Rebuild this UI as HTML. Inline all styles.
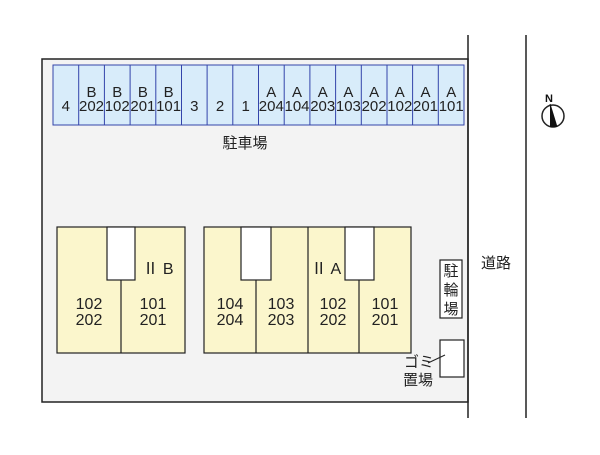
<!DOCTYPE html><html><head><meta charset="utf-8"><style>body{margin:0;background:#fff}</style></head><body>
<svg width="600" height="450" viewBox="0 0 600 450" xmlns="http://www.w3.org/2000/svg" font-family="Liberation Sans, Noto Sans CJK JP, sans-serif">
<rect width="600" height="450" fill="#fff"/>
<rect x="42" y="59" width="426" height="343" fill="#f3f3f3" stroke="#222" stroke-width="1.5"/>
<line x1="468" y1="35" x2="468" y2="418" stroke="#222" stroke-width="1.5"/>
<line x1="526" y1="35" x2="526" y2="418" stroke="#222" stroke-width="1.5"/>
<rect x="53" y="65" width="411" height="60" stroke="#3344aa" stroke-width="1" fill="#d8ecfa"/>
<g stroke="#3344aa" stroke-width="1">
<line x1="78.7" y1="65" x2="78.7" y2="125"/><line x1="104.4" y1="65" x2="104.4" y2="125"/><line x1="130.1" y1="65" x2="130.1" y2="125"/><line x1="155.8" y1="65" x2="155.8" y2="125"/><line x1="181.5" y1="65" x2="181.5" y2="125"/><line x1="207.1" y1="65" x2="207.1" y2="125"/><line x1="232.8" y1="65" x2="232.8" y2="125"/><line x1="258.5" y1="65" x2="258.5" y2="125"/><line x1="284.2" y1="65" x2="284.2" y2="125"/><line x1="309.9" y1="65" x2="309.9" y2="125"/><line x1="335.6" y1="65" x2="335.6" y2="125"/><line x1="361.3" y1="65" x2="361.3" y2="125"/><line x1="387" y1="65" x2="387" y2="125"/><line x1="412.6" y1="65" x2="412.6" y2="125"/><line x1="438.3" y1="65" x2="438.3" y2="125"/>
</g>
<g font-size="15" fill="#222" text-anchor="middle">
<text x="65.8" y="111">4</text>
<text x="91.5" y="97">B</text><text x="91.5" y="111" textLength="25" lengthAdjust="spacingAndGlyphs">202</text>
<text x="117.2" y="97">B</text><text x="117.2" y="111" textLength="25" lengthAdjust="spacingAndGlyphs">102</text>
<text x="142.9" y="97">B</text><text x="142.9" y="111" textLength="25" lengthAdjust="spacingAndGlyphs">201</text>
<text x="168.6" y="97">B</text><text x="168.6" y="111" textLength="25" lengthAdjust="spacingAndGlyphs">101</text>
<text x="194.3" y="111">3</text><text x="220" y="111">2</text><text x="245.7" y="111">1</text>
<text x="271.3" y="97">A</text><text x="271.3" y="111" textLength="25" lengthAdjust="spacingAndGlyphs">204</text>
<text x="297" y="97">A</text><text x="297" y="111" textLength="25" lengthAdjust="spacingAndGlyphs">104</text>
<text x="322.7" y="97">A</text><text x="322.7" y="111" textLength="25" lengthAdjust="spacingAndGlyphs">203</text>
<text x="348.4" y="97">A</text><text x="348.4" y="111" textLength="25" lengthAdjust="spacingAndGlyphs">103</text>
<text x="374.1" y="97">A</text><text x="374.1" y="111" textLength="25" lengthAdjust="spacingAndGlyphs">202</text>
<text x="399.8" y="97">A</text><text x="399.8" y="111" textLength="25" lengthAdjust="spacingAndGlyphs">102</text>
<text x="425.5" y="97">A</text><text x="425.5" y="111" textLength="25" lengthAdjust="spacingAndGlyphs">201</text>
<text x="451.2" y="97">A</text><text x="451.2" y="111" textLength="25" lengthAdjust="spacingAndGlyphs">101</text>
</g>
<text x="245" y="148" font-size="15" text-anchor="middle" fill="#222">駐車場</text>
<g stroke="#222" stroke-width="1.2" fill="#fbf6cc">
<rect x="57" y="227" width="128" height="126"/>
<rect x="204" y="227" width="207" height="126"/>
</g>
<g stroke="#222" stroke-width="1.2" fill="#fff">
<rect x="107" y="227" width="28" height="53"/>
<rect x="241" y="227" width="30" height="53"/>
<rect x="345" y="227" width="29" height="53"/>
</g>
<g stroke="#222" stroke-width="1.2">
<line x1="121" y1="280" x2="121" y2="353"/>
<line x1="256" y1="280" x2="256" y2="353"/>
<line x1="308" y1="227" x2="308" y2="353"/>
<line x1="359" y1="280" x2="359" y2="353"/>
</g>
<g font-size="16" fill="#222" text-anchor="middle">
<text x="158" y="274">Ⅱ B</text><text x="326" y="274">Ⅱ A</text>
<text x="89" y="309">102</text><text x="89" y="325">202</text>
<text x="153" y="309">101</text><text x="153" y="325">201</text>
<text x="230" y="309">104</text><text x="230" y="325">204</text>
<text x="281" y="309">103</text><text x="281" y="325">203</text>
<text x="333" y="309">102</text><text x="333" y="325">202</text>
<text x="385" y="309">101</text><text x="385" y="325">201</text>
</g>
<rect x="440" y="260" width="22" height="58" fill="#fff" stroke="#222" stroke-width="1.2"/>
<g font-size="15" fill="#222" text-anchor="middle"><text x="451" y="276">駐</text><text x="451" y="295">輪</text><text x="451" y="314">場</text></g>
<rect x="440" y="340" width="24" height="37" fill="#fff" stroke="#222" stroke-width="1.2"/>
<line x1="428" y1="363" x2="445" y2="355" stroke="#222"/>
<g font-size="15" fill="#222"><text x="404" y="367">ゴミ</text><text x="403" y="385">置場</text></g>
<text x="481" y="268" font-size="15" fill="#222">道路</text>
<circle cx="553" cy="116" r="11" fill="#fff" stroke="#222" stroke-width="1.5"/>
<polygon points="550,104 557,127 550,127" fill="#111"/>
<line x1="550" y1="104" x2="557" y2="127" stroke="#111"/>
<text x="549" y="102" font-size="11" font-weight="bold" text-anchor="middle" fill="#111">N</text>
</svg></body></html>
